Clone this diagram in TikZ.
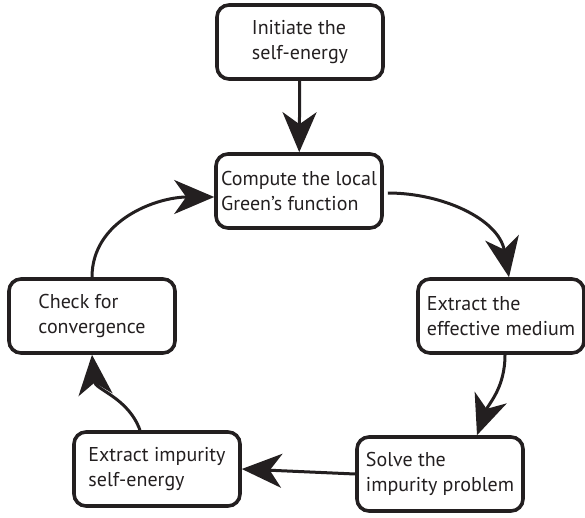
\documentclass[tikz,border=0pt]{standalone}
\usepackage{fontspec}
\setmainfont{PT Sans}
\usetikzlibrary{arrows.meta}
\definecolor{ink}{HTML}{231F20}

\begin{document}
\begin{tikzpicture}[x=1pt, y=1pt,
    procbox/.style={draw=ink, line width=3.6pt, rounded corners=12pt,
      minimum width=166pt, minimum height=74pt, align=left, text=ink,
      font=\fontsize{20}{25}\selectfont},
    flow/.style={draw=ink, line width=3pt,
      -{Stealth[length=40pt, width=34pt, inset=12pt]}}]
    \useasboundingbox (0, 0) rectangle (585, -518);
    \node[procbox] (init) at (300, -42) {Initiate the\\self-energy};
    \node[procbox] (green) at (299, -191) {Compute the local\\Green's function};
    \node[procbox] (medium) at (501, -316) {Extract the\\effective medium};
    \node[procbox] (solve) at (440, -474) {Solve the\\impurity problem};
    \node[procbox] (impurity) at (157, -469) {Extract impurity\\self-energy};
    \node[procbox] (check) at (92, -316) {Check for\\convergence};

    \draw[flow] (init) -- (green);
    \draw[flow, shorten <=4pt] ([yshift=-2pt]green.east) to[out=0, in=100] ([xshift=8pt]medium.north);
    \draw[flow] ([xshift=4pt]medium.south) to[out=-90, in=70] ([xshift=37pt]solve.north);
    \draw[flow] (solve.west) -- (impurity.east);
    \draw[flow] ([xshift=-17pt]impurity.north) to[out=110, in=-85] (check.south);
    \draw[flow] (check.north) to[out=90, in=180] ([yshift=-6pt]green.west);
  \end{tikzpicture}
\end{document}
